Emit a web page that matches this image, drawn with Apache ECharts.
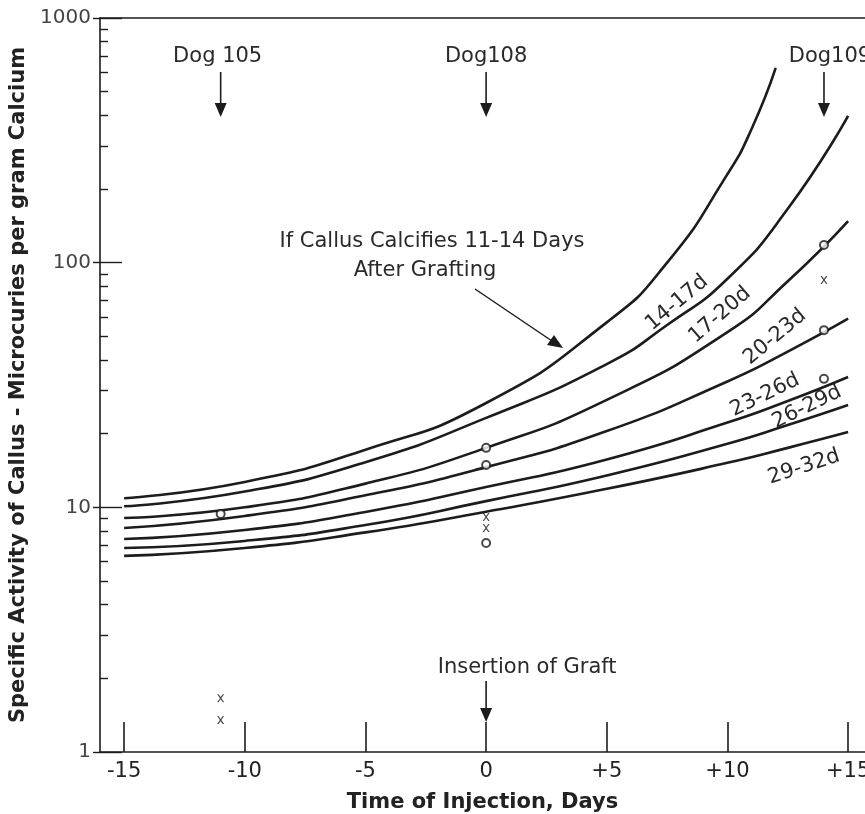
<!DOCTYPE html>
<html>
<head>
<meta charset="utf-8">
<script src="https://cdn.jsdelivr.net/npm/echarts@6/dist/echarts.min.js"></script>
<style>
html, body { margin: 0; padding: 0; background: #fff; }
#main { width: 865px; height: 814px; }
</style>
</head>
<body>
<div id="main"></div>
<script>
// days relative to graft insertion
var xDaysTop = [-15, -10, -5, 0, 5, 7.5, 10, 11, 12];
var xDaysL2 = [-15, -10, -5, 0, 5, 7.5, 10, 12.5, 15];
var xDays = [-15, -10, -5, 0, 5, 10, 12.5, 15];

// specific activity curves (uCi per g Ca), one per calcification window
var curve11_14 = [10.9, 12.7, 17.2, 26.7, 57, 100, 230, 352, 625];
var curve14_17 = [10.1, 11.6, 15.3, 23.2, 38.5, 55.6, 86, 166, 398];
var curve17_20 = [9.04, 10.0, 12.5, 17.5, 27.5, 52, 84, 148];
var curve20_23 = [8.23, 9.22, 11.2, 14.6, 20.5, 32.7, 43.3, 59];
var curve23_26 = [7.42, 8.08, 9.57, 12.1, 15.7, 22.2, 27.2, 34.1];
var curve26_29 = [6.82, 7.29, 8.47, 10.6, 13.5, 18.2, 21.7, 26.2];
var curve29_32 = [6.33, 6.82, 7.9, 9.6, 11.9, 15.2, 17.5, 20.3];
var curveNames = ['11-14d', '14-17d', '17-20d', '20-23d', '23-26d', '26-29d', '29-32d'];

// measured dogs
var circleX = [-11, 0, 0, 0, 14, 14, 14];
var circleY = [9.4, 17.5, 14.9, 7.15, 118, 53, 33.5];
var crossX = [-11, -11, 0, 0, 14];
var crossY = [1.66, 1.35, 9.13, 8.23, 85];

var xTicks = [-15, -10, -5, 0, 5, 10, 15];
var xTickLabels = ['-15', '-10', '-5', '0', '+5', '+10', '+15'];
var yMajor = [1, 10, 100, 1000];
var yMinor = [2, 3, 4, 5, 6, 7, 8, 9, 20, 30, 40, 50, 60, 70, 80, 90, 200, 300, 400, 500, 600, 700, 800, 900];

var FONT = 'DejaVu Sans';
var INK = '#1c1c1c';

function pairs(xs, ys) {
    var out = [];
    for (var i = 0; i < ys.length; i++) out.push([xs[i], ys[i]]);
    return out;
}

var chart = echarts.init(document.getElementById('main'));

var curves = [curve11_14, curve14_17, curve17_20, curve20_23, curve23_26, curve26_29, curve29_32];
var series = curves.map(function (c, i) {
    var xs = i == 0 ? xDaysTop : (i == 1 ? xDaysL2 : xDays);
    return {
        name: curveNames[i],
        type: 'line',
        data: pairs(xs, c),
        showSymbol: false,
        smooth: 0.55,
        lineStyle: { color: INK, width: 2.6 },
        silent: true
    };
});
series.push({
    type: 'scatter',
    data: pairs(circleX, circleY),
    symbol: 'emptyCircle',
    symbolSize: 8,
    itemStyle: { color: INK, borderWidth: 1.6 },
    z: 5
});
series.push({
    type: 'scatter',
    data: pairs(crossX, crossY),
    symbol: 'path://M0,0L2,0L5,3.6L8,0L10,0L6,5L10,10L8,10L5,6.4L2,10L0,10L4,5Z',
    symbolSize: [7, 8],
    itemStyle: { color: INK },
    z: 5
});

function logAxis(extra) {
    var a = {
        type: 'log',
        logBase: 10,
        min: 1,
        max: 1000,
        position: 'left',
        axisLine: { show: false, onZero: false },
        axisLabel: { show: false },
        splitLine: { show: false }
    };
    for (var k in extra) a[k] = extra[k];
    return a;
}

var option = {
    backgroundColor: '#fff',
    animation: false,
    grid: { left: 100, right: 0, top: 18, bottom: 62, outerBoundsMode: 'none' },
    xAxis: [{
        type: 'value',
        min: -16,
        max: 15.7,
        position: 'bottom',
        name: 'Time of Injection, Days',
        nameLocation: 'middle',
        nameGap: 40,
        nameTextStyle: { fontFamily: FONT, fontSize: 21, fontWeight: 'bold', color: '#222' },
        axisLine: { onZero: false, lineStyle: { color: INK, width: 1.6 } },
        axisTick: { inside: true, length: 30, lineStyle: { color: INK, width: 1.6 }, customValues: xTicks },
        axisLabel: {
            customValues: xTicks,
            margin: 9,
            fontFamily: FONT, fontSize: 21, color: '#222',
            formatter: function (v) { return xTickLabels[xTicks.indexOf(v)]; }
        },
        splitLine: { show: false }
    }, {
        type: 'value',
        min: -16,
        max: 15.7,
        position: 'top',
        axisLine: { onZero: false, lineStyle: { color: INK, width: 1.6 } },
        axisTick: { show: false },
        axisLabel: { show: false },
        splitLine: { show: false }
    }],
    yAxis: [logAxis({
        name: 'Specific Activity of Callus - Microcuries per gram Calcium',
        nameLocation: 'middle',
        nameRotate: 90,
        nameGap: 48,
        nameTextStyle: { fontFamily: FONT, fontSize: 21, fontWeight: 'bold', color: '#222' },
        axisLine: { show: true, onZero: false, lineStyle: { color: INK, width: 1.6 } },
        axisTick: { inside: true, length: 22, lineStyle: { color: INK, width: 1.4 }, customValues: yMajor },
        axisLabel: {
            customValues: yMajor, margin: 9, fontFamily: FONT, fontSize: 20, color: '#444',
            formatter: function (v) { return String(v); }
        }
    }), logAxis({
        axisTick: { inside: true, length: 8, lineStyle: { color: INK, width: 1.4 }, customValues: yMinor }
    }), logAxis({
        axisTick: { inside: false, length: 7, lineStyle: { color: INK, width: 1.4 }, customValues: yMajor }
    })],
    series: series
};
chart.setOption(option);

// annotations: arrows and texts
function xpx(v) { return chart.convertToPixel({ xAxisIndex: 0 }, v); }

function txt(str, x, y, size, rot) {
    return {
        type: 'text', x: x, y: y, rotation: rot || 0, silent: true,
        style: { text: str, fontFamily: FONT, fontSize: size, fill: '#2a2a2a', align: 'center', verticalAlign: 'middle' }
    };
}
function downArrow(x, y1, y2) {
    return [{
        type: 'line', silent: true,
        shape: { x1: x, y1: y1, x2: x, y2: y2 - 12 },
        style: { stroke: INK, lineWidth: 1.6 }
    }, {
        type: 'polygon', silent: true,
        shape: { points: [[x - 6, y2 - 14], [x + 6, y2 - 14], [x, y2]] },
        style: { fill: INK }
    }];
}

var g = [];
var dogs = [['Dog 105', -11, -3], ['Dog108', 0, 0], ['Dog109', 14, 6]];
dogs.forEach(function (d) {
    var px = xpx(d[1]);
    g.push(txt(d[0], px + d[2], 57, 21));
    g = g.concat(downArrow(px, 72, 117));
});
g.push(txt('Insertion of Graft', xpx(1.7), 668, 21));
g = g.concat(downArrow(xpx(0), 681, 722));

g.push(txt('If Callus Calcifies 11-14 Days', 432, 242, 21));
g.push(txt('After Grafting', 425, 271, 21));
g.push({
    type: 'line', silent: true,
    shape: { x1: 475, y1: 289, x2: 552, y2: 341 },
    style: { stroke: INK, lineWidth: 1.5 }
});
g.push({
    type: 'polygon', silent: true,
    shape: { points: [[547, 345], [554, 335], [563, 348]] },
    style: { fill: INK }
});

var deg = Math.PI / 180;
g.push(txt(curveNames[1], 677, 303, 21, 40 * deg));
g.push(txt(curveNames[2], 720, 315, 21, 41 * deg));
g.push(txt(curveNames[3], 775, 337, 21, 40 * deg));
g.push(txt(curveNames[4], 765, 395, 21, 26 * deg));
g.push(txt(curveNames[5], 807, 407, 21, 26 * deg));
g.push(txt(curveNames[6], 804, 467, 21, 18 * deg));

chart.setOption({ graphic: g });
</script>
</body>
</html>
